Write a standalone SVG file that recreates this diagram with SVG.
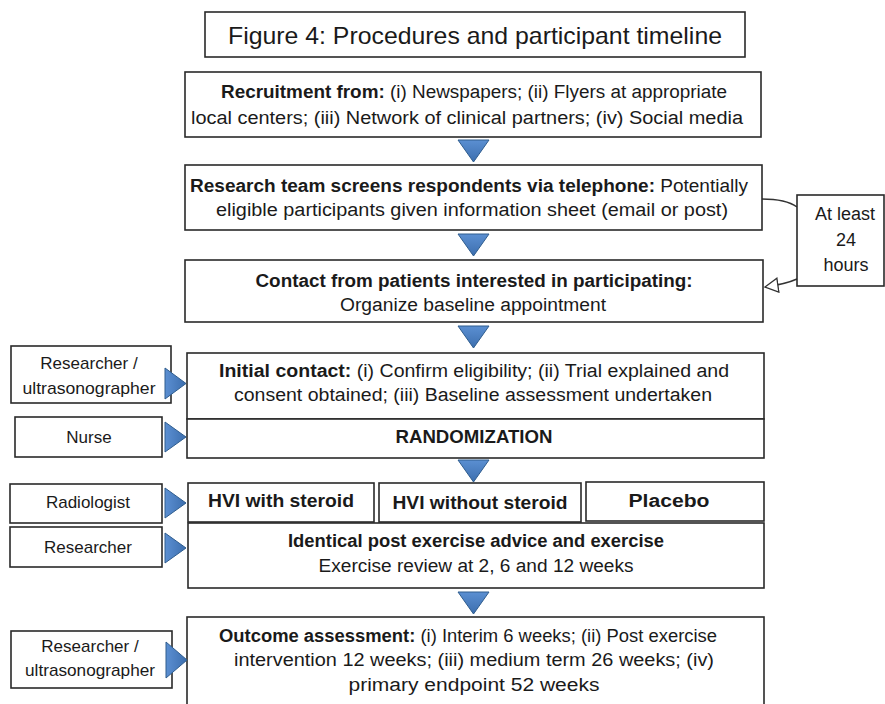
<svg xmlns="http://www.w3.org/2000/svg" width="885" height="704" viewBox="0 0 885 704">
<defs>
<style>
.box{fill:#fff;stroke:#2a2a2a;stroke-width:1.6}
.t{font-family:"Liberation Sans",Arial,sans-serif;font-size:18px;fill:#1a1a1a;text-anchor:middle}
.s{font-size:17px}
.b{font-weight:bold}
.tri{fill:url(#g);stroke:#2f5d8e;stroke-width:1;stroke-linejoin:round}
.con{fill:none;stroke:#333;stroke-width:1.5}
</style>
<linearGradient id="g" x1="0" y1="0" x2="0" y2="1">
<stop offset="0" stop-color="#5b8fd2"/>
<stop offset="1" stop-color="#3c6eae"/>
</linearGradient>
<linearGradient id="gh" x1="0" y1="0" x2="1" y2="0">
<stop offset="0" stop-color="#5b8fd2"/>
<stop offset="1" stop-color="#3c6eae"/>
</linearGradient>
<marker id="open" markerWidth="16" markerHeight="16" refX="14" refY="8" orient="auto" markerUnits="userSpaceOnUse">
<path d="M1,1 L14,8 L1,15 Z" fill="#fff" stroke="#333" stroke-width="1.3"/>
</marker>
<path id="dn" d="M0,0 L31,0 L15.5,22 Z"/>
</defs>
<rect width="885" height="704" fill="#fff"/>

<g id="connectors">
<path class="con" d="M762,199 Q786,199 797,207"/>
<path class="con" d="M797,279 Q786,284 765,287" marker-end="url(#open)"/>
<use href="#dn" class="tri" x="458" y="140"/>
<use href="#dn" class="tri" x="458" y="234"/>
<use href="#dn" class="tri" x="458" y="326"/>
<use href="#dn" class="tri" x="458" y="460"/>
<use href="#dn" class="tri" x="458" y="592"/>
</g>

<g id="title">
<rect class="box" x="205" y="12" width="540" height="45"/>
<text class="t" x="475" y="44" style="font-size:24px" textLength="494" lengthAdjust="spacingAndGlyphs">Figure 4: Procedures and participant timeline</text>
</g>

<g id="recruitment">
<rect class="box" x="185" y="72" width="576" height="65"/>
<text class="t" x="474" y="98" textLength="506" lengthAdjust="spacingAndGlyphs"><tspan class="b">Recruitment from:</tspan> (i) Newspapers; (ii) Flyers at appropriate</text>
<text class="t" x="467" y="124" textLength="552" lengthAdjust="spacingAndGlyphs">local centers; (iii) Network of clinical partners; (iv) Social media</text>
</g>

<g id="screening">
<rect class="box" x="185" y="165" width="577" height="65"/>
<text class="t" x="469" y="192" textLength="558" lengthAdjust="spacingAndGlyphs"><tspan class="b">Research team screens respondents via telephone:</tspan> Potentially</text>
<text class="t" x="472" y="216" textLength="512" lengthAdjust="spacingAndGlyphs">eligible participants given information  sheet (email or post)</text>
</g>

<g id="contact">
<rect class="box" x="185" y="260" width="578" height="62"/>
<text class="t b" x="474" y="287" textLength="437" lengthAdjust="spacingAndGlyphs">Contact from patients interested in participating:</text>
<text class="t" x="473" y="311" textLength="266" lengthAdjust="spacingAndGlyphs">Organize baseline appointment</text>
</g>

<g id="atleast">
<rect class="box" x="797" y="195" width="87" height="91"/>
<text class="t" x="845" y="220">At least</text>
<text class="t" x="846" y="246">24</text>
<text class="t" x="846" y="271">hours</text>
</g>

<g id="initial">
<rect class="box" x="187" y="353" width="577" height="66"/>
<text class="t" x="474" y="377" textLength="510" lengthAdjust="spacingAndGlyphs"><tspan class="b">Initial contact:</tspan> (i) Confirm eligibility; (ii) Trial explained and</text>
<text class="t" x="473" y="401" textLength="478" lengthAdjust="spacingAndGlyphs">consent obtained;  (iii) Baseline assessment undertaken</text>
</g>

<g id="randomization">
<rect class="box" x="187" y="419" width="577" height="39"/>
<text class="t b" x="474" y="443" textLength="157" lengthAdjust="spacingAndGlyphs">RANDOMIZATION</text>
</g>

<g id="researcher-ultra-1">
<rect class="box" x="11" y="346" width="160" height="57"/>
<text class="t s" x="89" y="369">Researcher /</text>
<text class="t s" x="89" y="394" textLength="133" lengthAdjust="spacingAndGlyphs">ultrasonographer</text>
<path class="tri" style="fill:url(#gh)" d="M165,368 L186,383.5 L165,399 Z"/>
</g>

<g id="nurse">
<rect class="box" x="15" y="417" width="147" height="40"/>
<text class="t s" x="89" y="443">Nurse</text>
<path class="tri" style="fill:url(#gh)" d="M165,422 L186,437 L165,452 Z"/>
</g>

<g id="radiologist">
<rect class="box" x="10" y="484" width="152" height="39"/>
<text class="t s" x="88" y="508">Radiologist</text>
<path class="tri" style="fill:url(#gh)" d="M165,488 L186,503 L165,518 Z"/>
</g>

<g id="hvi-steroid">
<rect class="box" x="188" y="483" width="186" height="39"/>
<text class="t b" x="281" y="507" textLength="146" lengthAdjust="spacingAndGlyphs">HVI with steroid</text>
</g>

<g id="hvi-no-steroid">
<rect class="box" x="379" y="483" width="202" height="39"/>
<text class="t b" x="480" y="509" textLength="175" lengthAdjust="spacingAndGlyphs">HVI without steroid</text>
</g>

<g id="placebo">
<rect class="box" x="586" y="482" width="178" height="39"/>
<text class="t b" x="669" y="507" textLength="81" lengthAdjust="spacingAndGlyphs">Placebo</text>
</g>

<g id="researcher">
<rect class="box" x="10" y="527" width="152" height="40"/>
<text class="t s" x="88" y="553">Researcher</text>
<path class="tri" style="fill:url(#gh)" d="M165,533 L186,548 L165,563 Z"/>
</g>

<g id="exercise">
<rect class="box" x="188" y="523" width="576" height="65"/>
<text class="t b" x="476" y="547" textLength="376" lengthAdjust="spacingAndGlyphs">Identical post exercise advice and exercise</text>
<text class="t" x="476" y="572" textLength="315" lengthAdjust="spacingAndGlyphs">Exercise review at 2, 6 and 12 weeks</text>
</g>

<g id="outcome">
<rect class="box" x="187" y="617" width="577" height="100"/>
<text class="t" x="468" y="642" textLength="498" lengthAdjust="spacingAndGlyphs"><tspan class="b">Outcome assessment:</tspan> (i) Interim  6 weeks; (ii) Post exercise</text>
<text class="t" x="474" y="666" textLength="480" lengthAdjust="spacingAndGlyphs">intervention  12 weeks; (iii) medium term  26 weeks; (iv)</text>
<text class="t" x="474" y="691" textLength="251" lengthAdjust="spacingAndGlyphs">primary endpoint  52 weeks</text>
</g>

<g id="researcher-ultra-2">
<rect class="box" x="11" y="631" width="161" height="57"/>
<text class="t s" x="90" y="652">Researcher /</text>
<text class="t s" x="90" y="676" textLength="130" lengthAdjust="spacingAndGlyphs">ultrasonographer</text>
<path class="tri" style="fill:url(#gh)" d="M166,642 L187,660 L166,678 Z"/>
</g>
</svg>
